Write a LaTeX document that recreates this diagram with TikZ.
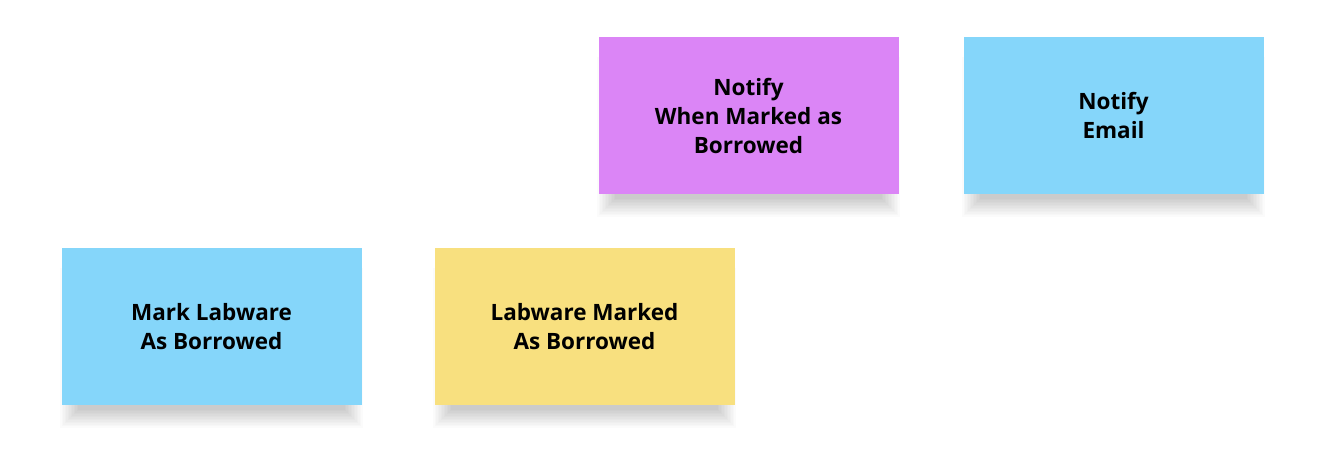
\documentclass[tikz,border=0pt]{standalone}
\usepackage{fontspec}
\setmainfont{Open Sans}
\usetikzlibrary{backgrounds}
\definecolor{notepurple}{HTML}{DB85F6}
\definecolor{noteblue}{HTML}{85D6FA}
\definecolor{noteyellow}{HTML}{F8E07F}
\tikzset{
  sticky/.style={rectangle, minimum width=300pt, minimum height=157pt, inner sep=0pt,
    align=center, text=black, font=\fontsize{22.5}{29}\selectfont\bfseries},
}
% soft shadow under a note: stacked translucent rectangles
\newcommand\noteshadow[1]{%
  \foreach \k in {0,...,12}{%
    \fill[black,opacity=0.014]
      ([xshift={-1pt+1.5*\k pt}, yshift={-22pt+1.5*\k pt}]#1.south west)
      rectangle ([xshift={1pt-1.5*\k pt}, yshift=-20pt]#1.north east);
  }%
}
\begin{document}
\begin{tikzpicture}[x=1pt,y=1pt]
  \useasboundingbox (0,0) rectangle (1340,452);
  \node[sticky, fill=notepurple] (notifymarked) at (748.5,336) {Notify\\When Marked as\\Borrowed};
  \node[sticky, fill=noteblue] (notifyemail) at (1113.5,336) {Notify\\Email};
  \node[sticky, fill=noteblue] (markborrowed) at (211.5,125) {Mark Labware\\As Borrowed};
  \node[sticky, fill=noteyellow] (markedevent) at (584.5,125) {Labware Marked\\As Borrowed};
  \begin{scope}[on background layer]
    \fill[white] (0,0) rectangle (1340,452);
    \noteshadow{notifymarked}
    \noteshadow{notifyemail}
    \noteshadow{markborrowed}
    \noteshadow{markedevent}
  \end{scope}
\end{tikzpicture}
\end{document}
